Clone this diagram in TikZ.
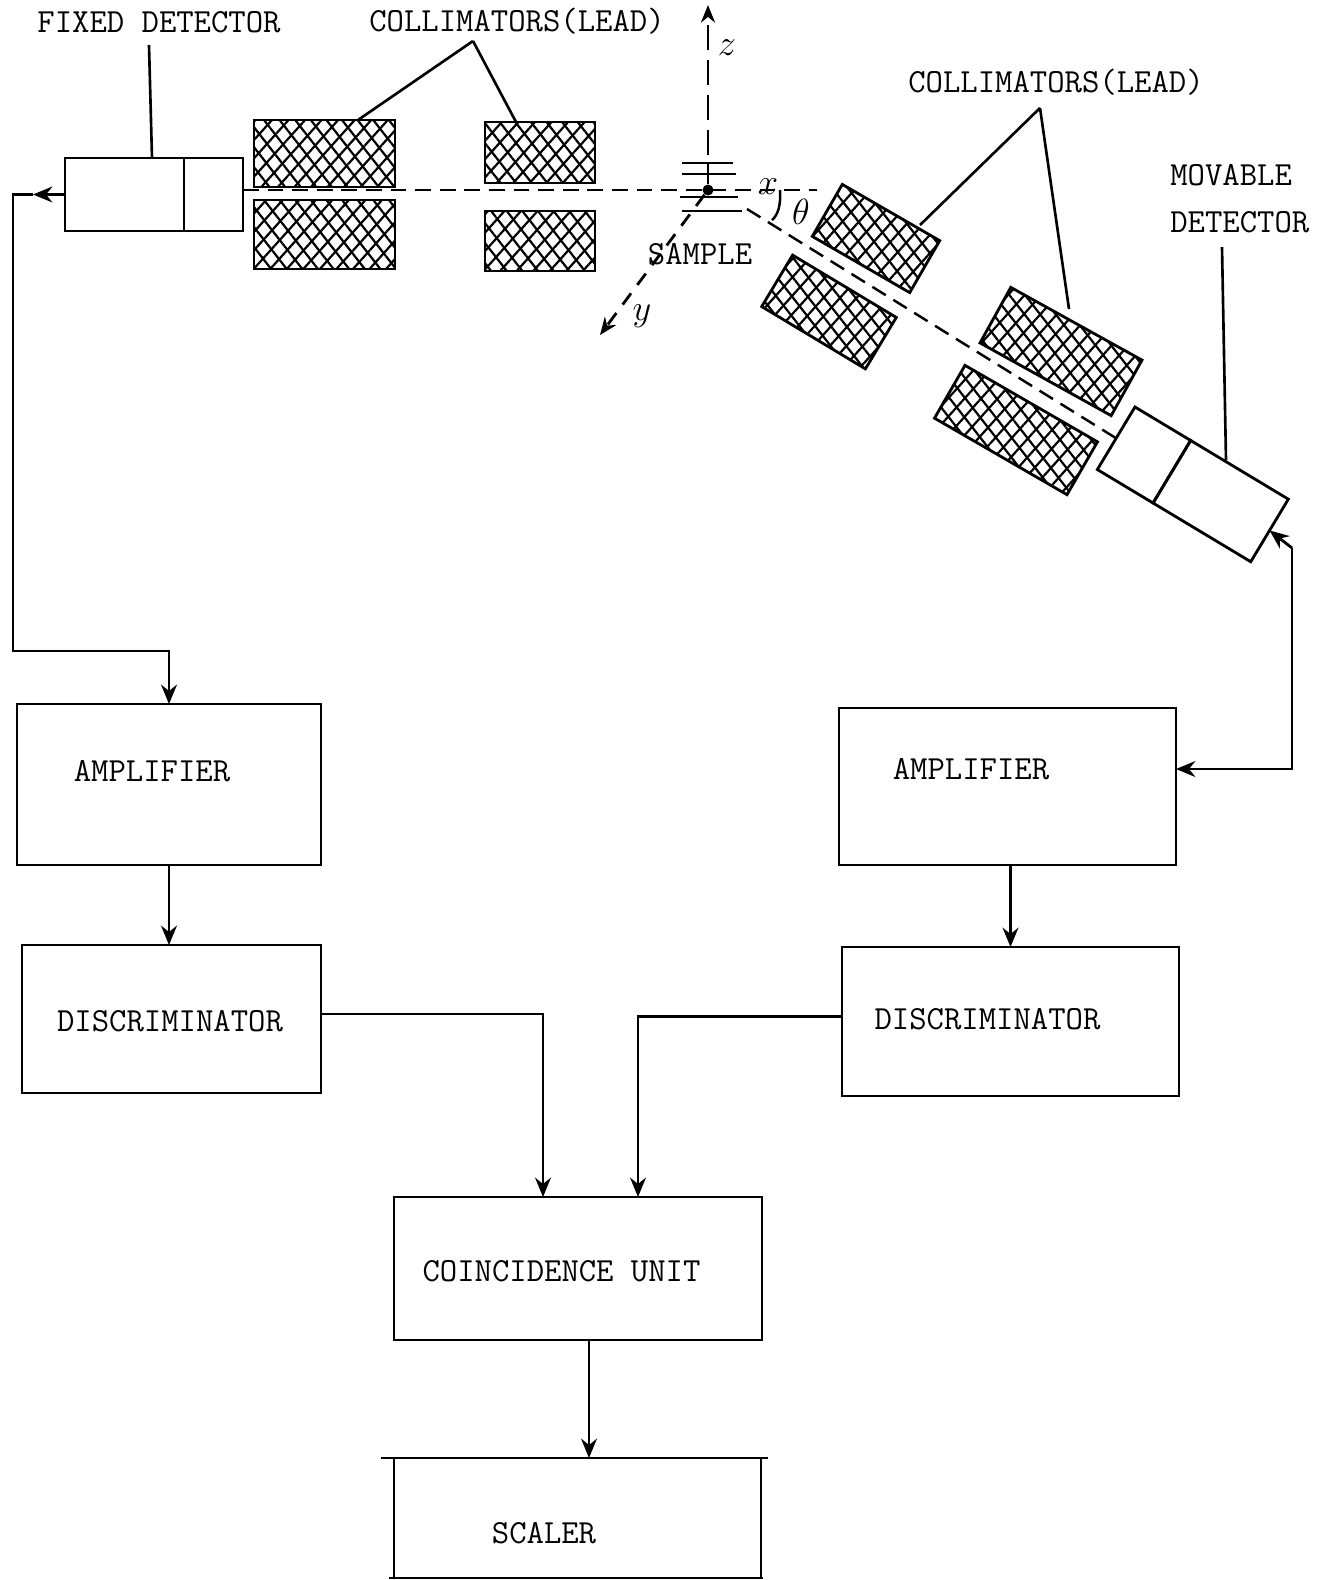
\documentclass[tikz,border=0pt]{standalone}
\usepackage{amsmath}
\usepackage{xcolor}
\usepackage{tikz}
\usetikzlibrary{arrows.meta,positioning,patterns.meta}

\begin{document}
\begin{tikzpicture}[
  x=0.02cm, y=-0.02cm,
  unit/.style={draw=black, line width=1.6pt, inner sep=0pt, outer sep=0pt},
  lead/.style={unit,
               preaction={pattern={Lines[angle=48,distance=7pt,line width=1.25pt]}},
               pattern={Lines[angle=-52,distance=7pt,line width=1.25pt]}},
  lbl/.style={inner sep=0pt, font=\fontsize{19.2}{23}\selectfont\ttfamily},
  hand/.style={inner sep=0pt, font=\fontsize{20}{24}\selectfont},
  wire/.style={line width=1.6pt, black},
  arr/.style={-{Stealth[length=11pt,width=9pt]}, wire},
  leader/.style={line width=1.5pt, black},
  plate/.style={line width=1.4pt, black},
  beam/.style={line width=1.4pt, black, dash pattern=on 9pt off 5pt},
  axis/.style={-{Stealth[length=10pt,width=8pt]}, line width=1.6pt, black}
]
  \useasboundingbox (0,0) rectangle (1324,1580);
  % Fixed detector side
  \node[unit, minimum width=2.38cm, minimum height=1.46cm] (fixback) at (124.5,194.5) {};
  \node[unit, minimum width=1.18cm, minimum height=1.46cm, right=0cm of fixback] (fixfront) {};
  \node[lead, minimum width=2.82cm, minimum height=1.34cm] (colA) at (324.5,153.5) {};
  \node[lead, minimum width=2.82cm, minimum height=1.38cm] (colB) at (324.5,234.5) {};
  \node[lead, minimum width=2.20cm, minimum height=1.22cm] (colC) at (540,152.5) {};
  \node[lead, minimum width=2.20cm, minimum height=1.20cm] (colD) at (540,241) {};
  % Sample and axes
  \node[circle, fill=black, minimum size=0.22cm, inner sep=0pt] (smp) at (708,190) {};
  \coordinate (ztip) at (708,5);
  \coordinate (ytip) at (600,335);
  \coordinate (xend) at (817,190);
  \coordinate (beamstart) at (747,209);
  \coordinate (arcstart) at (780,190);
  \coordinate (arcend) at (772,220);
  \draw[plate] (682,163) -- (733,163);
  \draw[plate] (682,174) -- (736,174);
  \draw[plate] (680,197) -- (738,197);
  \draw[plate] (682,211) -- (742,211);
  \draw[plate] (708,163) -- (smp);
  \draw[axis, dash pattern=on 14pt off 6pt] (708,155) -- (ztip);
  \draw[axis, dash pattern=on 8pt off 6pt] (smp) -- (ytip);
  \draw[beam] (fixfront.east |- xend) -- (xend);
  \draw[plate] (arcstart) .. controls (781,205) and (778,215) .. (arcend);
  % Movable detector side
  \node[lead, rotate=-30, minimum width=2.25cm, minimum height=1.20cm] (colE) at (876,238.5) {};
  \node[lead, rotate=-31, minimum width=2.42cm, minimum height=1.20cm] (colF) at (829,312) {};
  \node[lead, rotate=-29, minimum width=3.00cm, minimum height=1.27cm] (colG) at (1061,351.5) {};
  \node[lead, rotate=-30, minimum width=3.06cm, minimum height=1.22cm] (colH) at (1016,430) {};
  \node[unit, rotate=-31, minimum width=1.30cm, minimum height=1.46cm] (movfront) at (1144,455) {};
  \node[unit, rotate=-31, minimum width=2.28cm, minimum height=1.46cm, anchor=west] (movback) at (movfront.east) {};
  \draw[beam] (beamstart) -- (movfront.west);
  % Labels at the top
  \node[lbl] (fixlbl) at (159,22) {FIXED DETECTOR};
  \node[lbl] (collbl) at (517,21) {COLLIMATORS(LEAD)};
  \node[lbl] (colrlbl) at (1056,82) {COLLIMATORS(LEAD)};
  \node[lbl, anchor=west] (movlbl) at (1170,175) {MOVABLE};
  \node[lbl, anchor=west] (detlbl) at (1170,222) {DETECTOR};
  \node[lbl] (smplbl) at (700,254) {SAMPLE};
  \node[hand] (zlbl) at (727,48) {$z$};
  \node[hand] (ylbl) at (642,316) {$y$};
  \node[hand] (xlbl) at (768,187) {$x$};
  \node[hand] (thetalbl) at (801,212) {$\theta$};
  \coordinate (colfork) at (473,41);
  \coordinate (colrfork) at (1040,108);
  \draw[leader] (149,45) -- (fixback.north -| 152,0);
  \draw[leader] (colfork) -- (358,120);
  \draw[leader] (colfork) -- (516,122);
  \draw[leader] (colrfork) -- (920,225);
  \draw[leader] (colrfork) -- (1069,309);
  \draw[leader] (1222,247) -- (1226,460);
  % Electronics
  \node[unit, minimum width=6.08cm, minimum height=3.22cm] (ampl) at (169,784.5) {};
  \node[unit, minimum width=5.98cm, minimum height=2.96cm] (discl) at (171.5,1019) {};
  \node[unit, minimum width=6.74cm, minimum height=3.14cm] (ampr) at (1007.5,786.5) {};
  \node[unit, minimum width=6.74cm, minimum height=2.98cm] (discr) at (1010.5,1021.5) {};
  \node[unit, minimum width=7.36cm, minimum height=2.86cm] (coinc) at (578,1268.5) {};
  \node[unit, minimum width=7.34cm, minimum height=2.40cm] (scaler) at (577.5,1518) {};
  \node[lbl] (ampltxt) at (152,771) {AMPLIFIER};
  \node[lbl] (discltxt) at (170,1021) {DISCRIMINATOR};
  \node[lbl] (amprtxt) at (971,769) {AMPLIFIER};
  \node[lbl] (discrtxt) at (987.5,1019) {DISCRIMINATOR};
  \node[lbl] (coinctxt) at (561.5,1271) {COINCIDENCE UNIT};
  \node[lbl] (scalertxt) at (544,1533) {SCALER};
  \draw[wire] ([xshift=-0.26cm]scaler.north west) -- ([xshift=0.14cm]scaler.north east);
  \draw[wire] ([xshift=-0.1cm]scaler.south west) -- ([xshift=0.04cm]scaler.south east);
  % Flow
  \coordinate (fixtip) at (33,194.5);
  \coordinate (fixdrop) at (13,651);
  \coordinate (movturn) at (1292,548);
  \coordinate (ciA) at (543,1197);
  \coordinate (ciB) at (638,1197);
  \draw[arr] (fixback.west) -- (fixtip);
  \draw[arr] (fixtip) -| (fixdrop) -| (ampl.north);
  \draw[arr] (ampl.south) -- (ampl.south |- discl.north);
  \draw[arr] ([yshift=0.1cm]discl.east) -| (ciA);
  \draw[arr] ([yshift=0.1cm]discr.west) -| (ciB);
  \draw[arr] (discr.north |- ampr.south) -- (discr.north);
  \draw[arr] (movturn) -- (movback.east);
  \draw[arr] (movturn) |- ([yshift=0.35cm]ampr.east);
  \draw[arr] (589,1340) -- (scaler.north -| 589,0);
\end{tikzpicture}
\end{document}
